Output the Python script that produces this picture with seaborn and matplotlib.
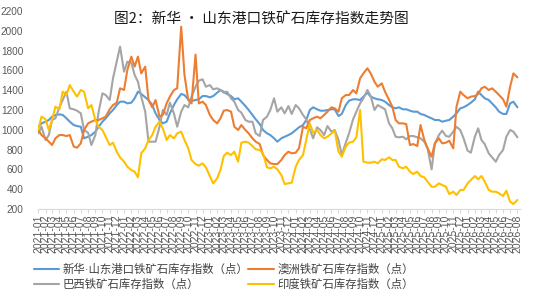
import pandas as pd
import matplotlib
matplotlib.use("Agg")
import matplotlib.pyplot as plt
import matplotlib.dates as mdates
import seaborn as sns

# semi-monthly readings, 2021-01 .. 2026-08
dates = pd.date_range("2021-01-01", periods=135, freq="SMS")

xinhua = [
    1030, 1065, 1082, 1099, 1133, 1150, 1156, 1150, 1116, 1082,
    1048, 1038, 1031, 914, 930, 947, 981, 1031, 1082, 1116,
    1166, 1200, 1250, 1284, 1284, 1267, 1274, 1318, 1385, 1362,
    1328, 1301, 1250, 1166, 1099, 1065, 1082, 1166, 1250, 1308,
    1362, 1351, 1308, 1291, 1301, 1308, 1341, 1341, 1328, 1341,
    1375, 1402, 1385, 1362, 1341, 1308, 1318, 1284, 1240, 1200,
    1150, 1106, 1058, 998, 964, 947, 914, 880, 914, 930,
    947, 964, 998, 1025, 1048, 1099, 1200, 1227, 1207, 1193,
    1193, 1200, 1207, 1207, 1139, 1160, 1250, 1294, 1308, 1308,
    1301, 1335, 1375, 1335, 1318, 1308, 1301, 1284, 1250, 1227,
    1217, 1227, 1207, 1207, 1193, 1183, 1183, 1160, 1150, 1133,
    1116, 1099, 1099, 1082, 1092, 1099, 1133, 1166, 1217, 1227,
    1250, 1274, 1308, 1385, 1351, 1318, 1301, 1267, 1227, 1183,
    1160, 1160, 1267, 1284, 1227,
]
australia = [
    998, 947, 914, 880, 846, 914, 947, 947, 937, 947,
    830, 819, 863, 998, 1065, 1082, 1099, 1099, 1116, 1133,
    1207, 1250, 1274, 1419, 1402, 1604, 1739, 1638, 1739, 1570,
    1638, 1301, 1227, 1301, 1133, 1150, 1267, 1335, 1402, 1419,
    2041, 1553, 1301, 1267, 1760, 1267, 1284, 1250, 1150, 1099,
    1065, 1116, 1193, 1200, 1183, 1031, 998, 1048, 998, 964,
    914, 880, 856, 745, 695, 661, 654, 654, 695, 745,
    779, 762, 769, 813, 1031, 1015, 1099, 1116, 1133, 1116,
    1150, 1183, 1227, 1217, 1183, 1318, 1351, 1351, 1402, 1368,
    1520, 1570, 1621, 1570, 1486, 1435, 1469, 1385, 1301, 1234,
    1099, 1065, 1065, 1058, 846, 856, 836, 1048, 897, 813,
    728, 863, 914, 863, 870, 890, 813, 1234, 1385, 1351,
    1318, 1335, 1341, 1362, 1419, 1435, 1402, 1419, 1385, 1351,
    1308, 1234, 1435, 1570, 1530,
]
brazil = [
    964, 1031, 897, 947, 1099, 1116, 1227, 1301, 1385, 1217,
    1207, 1193, 1166, 998, 971, 846, 947, 1183, 1368, 1351,
    1301, 1520, 1688, 1840, 1587, 1688, 1678, 1553, 1486, 1335,
    1183, 880, 880, 880, 1031, 1200, 1150, 1274, 1166, 1031,
    1183, 1250, 1227, 1335, 1435, 1496, 1510, 1435, 1452, 1409,
    1419, 1402, 1375, 1385, 1318, 1284, 1200, 1173, 1099, 1082,
    1082, 964, 937, 1099, 1133, 1200, 1318, 1183, 1227, 1166,
    1240, 1160, 1250, 1217, 1150, 1106, 1005, 914, 1025, 998,
    947, 1038, 981, 998, 897, 745, 870, 964, 1106, 1183,
    1267, 1318, 1402, 1341, 1200, 1250, 1227, 1207, 1065, 1015,
    930, 924, 930, 904, 937, 937, 924, 914, 880, 813,
    600, 860, 947, 991, 937, 930, 981, 1031, 998, 914,
    789, 769, 930, 1015, 897, 856, 762, 722, 678, 745,
    796, 930, 998, 981, 924,
]
india = [
    998, 1133, 1106, 998, 1099, 1234, 1207, 1385, 1351, 1452,
    1385, 1335, 1402, 1385, 1217, 1250, 1099, 1031, 998, 930,
    846, 870, 779, 722, 678, 627, 594, 577, 520, 762,
    813, 897, 947, 1031, 1082, 1015, 897, 947, 914, 964,
    981, 897, 813, 695, 654, 638, 661, 621, 533, 459,
    510, 594, 735, 769, 745, 779, 678, 870, 880, 870,
    836, 803, 796, 762, 621, 611, 627, 601, 543, 452,
    459, 466, 627, 695, 745, 897, 1065, 971, 998, 947,
    914, 930, 964, 991, 779, 728, 830, 870, 880, 924,
    1200, 678, 668, 668, 678, 661, 702, 695, 722, 695,
    695, 627, 611, 627, 577, 553, 577, 533, 520, 476,
    425, 425, 459, 442, 425, 351, 375, 341, 392, 392,
    459, 493, 533, 500, 533, 476, 392, 375, 375, 358,
    331, 385, 274, 250, 291,
]

names = [
    "新华·山东港口铁矿石库存指数（点）",
    "澳洲铁矿石库存指数（点）",
    "巴西铁矿石库存指数（点）",
    "印度铁矿石库存指数（点）",
]
colors = ["#5B9BD5", "#ED7D31", "#A5A5A5", "#FFC000"]

df = pd.DataFrame({"date": dates, names[0]: xinhua, names[1]: australia,
                   names[2]: brazil, names[3]: india})
df = df.melt(id_vars="date", var_name="series", value_name="value")

sns.set_theme(style="white")
plt.rcParams["font.family"] = ["Liberation Sans", "Noto Sans CJK SC", "DejaVu Sans"]

fig = plt.figure(figsize=(5.35, 2.97), dpi=100)
ax = fig.add_axes([38 / 535, 1 - 209 / 297, 482 / 535, 198 / 297])

# column-wise legend fill: 新华, 巴西 | 澳洲, 印度
order = [names[0], names[2], names[1], names[3]]
sns.lineplot(data=df, x="date", y="value", hue="series", hue_order=order,
             palette=dict(zip(names, colors)), linewidth=1.5, ax=ax)

ax.set_ylim(200, 2200)
ax.set_yticks(range(200, 2201, 200))
ax.set_xlim(pd.Timestamp("2020-12-31"), pd.Timestamp("2026-08-12"))
ax.xaxis.set_major_locator(mdates.MonthLocator())
ax.xaxis.set_major_formatter(mdates.DateFormatter("%Y-%m"))
ax.set_xlabel("")
ax.set_ylabel("")

for s in ["top", "right", "left"]:
    ax.spines[s].set_visible(False)
ax.spines["bottom"].set_color("#D9D9D9")
ax.spines["bottom"].set_linewidth(0.8)
ax.tick_params(axis="x", bottom=True, length=3, width=0.8, color="#D9D9D9",
               labelsize=7.5, labelcolor="#595959", rotation=90, pad=1)
ax.tick_params(axis="y", left=False, labelsize=7.2, labelcolor="#595959", pad=4.5)

fig.text(0.488, 0.933, "图2：新华 · 山东港口铁矿石库存指数走势图", ha="center", va="center",
         fontsize=10.6, color="#1a1a1a", family=["Noto Sans CJK SC", "DejaVu Sans"])

sns.move_legend(ax, "upper left", bbox_to_anchor=(-10 / 482, -49 / 198), ncol=2,
                frameon=False, title=None, fontsize=8.2, handlelength=2.2,
                handletextpad=0.35, columnspacing=0.0, labelspacing=0.35, borderpad=0)
for t in ax.get_legend().get_texts():
    t.set_color("#404040")

plt.savefig("out.png", dpi=100)
